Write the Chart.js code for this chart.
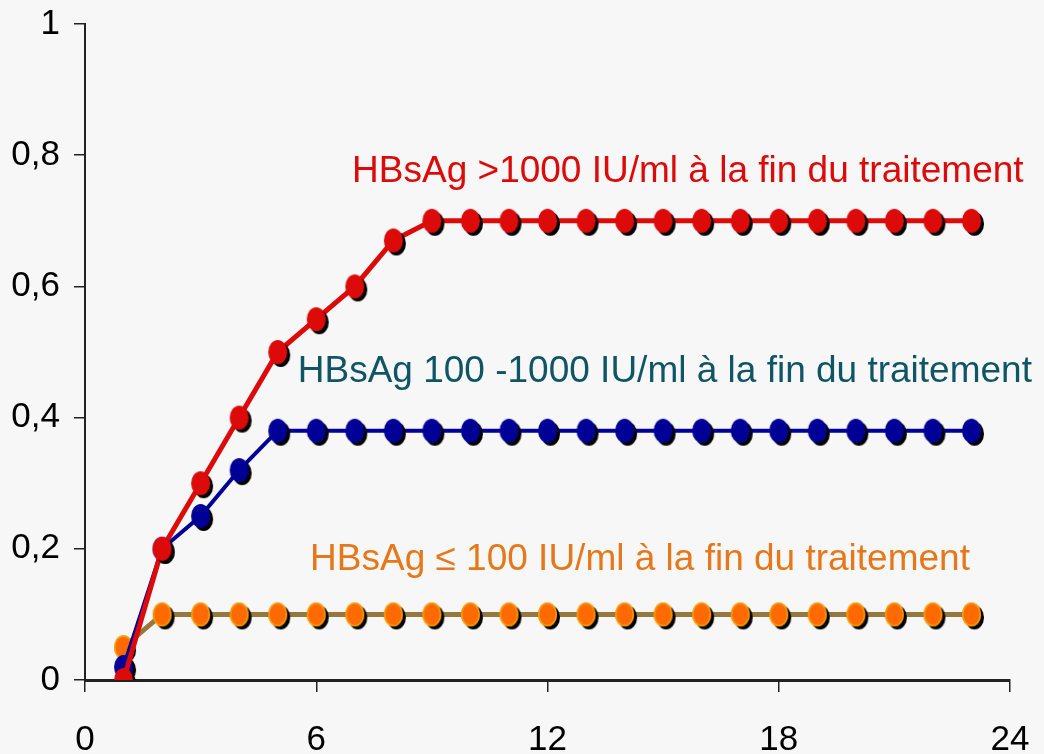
<!DOCTYPE html>
<html>
<head>
<meta charset="utf-8">
<script src="https://cdn.jsdelivr.net/npm/chart.js@4"></script>
<style>
  html, body { margin: 0; padding: 0; background: #f7f7f7; }
  #wrap { width: 1044px; height: 754px; }
</style>
</head>
<body>
<div id="wrap"><canvas id="hbs-chart"></canvas></div>
<script>
// months after end of treatment
var months = [1,2,3,4,5,6,7,8,9,10,11,12,13,14,15,16,17,18,19,20,21,22,23];

// cumulative probability, one list per HBsAg group
var highGroup = [0,0.2,0.3,0.4,0.5,0.55,0.6,0.67,0.7,0.7,0.7,0.7,0.7,0.7,0.7,0.7,0.7,0.7,0.7,0.7,0.7,0.7,0.7];
var midGroup  = [0.02,0.2,0.25,0.32,0.38,0.38,0.38,0.38,0.38,0.38,0.38,0.38,0.38,0.38,0.38,0.38,0.38,0.38,0.38,0.38,0.38,0.38,0.38];
var lowGroup  = [0.05,0.1,0.1,0.1,0.1,0.1,0.1,0.1,0.1,0.1,0.1,0.1,0.1,0.1,0.1,0.1,0.1,0.1,0.1,0.1,0.1,0.1,0.1];

var xTicks = [0,6,12,18,24];
var yTicks = [0,0.2,0.4,0.6,0.8,1];

// series labels written on the plot (anchored in data units)
var labelTexts  = ["HBsAg >1000 IU/ml à la fin du traitement",
                   "HBsAg 100 -1000 IU/ml à la fin du traitement",
                   "HBsAg ≤ 100 IU/ml à la fin du traitement"];
var labelColors = ["#dd0a0a", "#0f5566", "#e5781a"];
var labelX = [6.93, 5.52, 5.84];
var labelY = [0.775, 0.47, 0.183];

var FONT = "'Liberation Sans', Arial, sans-serif";

/*******************************
* Builds an ellipse marker with a black drop shadow
*******************************/
function makeMarker(fill, stroke){
  var rx = 9.5, ry = 12, off = 3;
  var c = document.createElement('canvas');
  c.width = 2*(rx+off)+2;
  c.height = 2*(ry+off)+2;
  var g = c.getContext('2d');
  var cx = c.width/2, cy = c.height/2;
  g.fillStyle = "#000";
  g.beginPath(); g.ellipse(cx+off, cy+off, rx, ry, 0, 0, Math.PI*2); g.fill();
  g.fillStyle = fill;
  g.beginPath(); g.ellipse(cx, cy, rx, ry, 0, 0, Math.PI*2); g.fill();
  if (stroke) {
    g.strokeStyle = stroke; g.lineWidth = 1.5;
    g.beginPath(); g.ellipse(cx, cy, rx-0.75, ry-0.75, 0, 0, Math.PI*2); g.stroke();
  }
  return c;
}

function toPoints(vals){
  return vals.map(function(v, i){ return {x: months[i], y: v}; });
}

var seriesLabels = {
  id: 'seriesLabels',
  afterDatasetsDraw: function(chart){
    var ctx = chart.ctx;
    var xs = chart.scales.x, ys = chart.scales.y;
    ctx.save();
    ctx.font = "37px " + FONT;
    ctx.textBaseline = "middle";
    ctx.textAlign = "left";
    for (var i = 0; i < labelTexts.length; i++) {
      ctx.fillStyle = labelColors[i];
      ctx.fillText(labelTexts[i], xs.getPixelForValue(labelX[i]), ys.getPixelForValue(labelY[i]));
    }
    ctx.restore();
  }
};

new Chart("hbs-chart", {
  type: "line",
  data: {
    datasets: [{
      data: toPoints(highGroup),
      borderColor: "#dd0a0a",
      borderWidth: 5,
      pointStyle: makeMarker("#dd0a0a"),
      fill: false,
      tension: 0
    },{
      data: toPoints(midGroup),
      borderColor: "#000096",
      borderWidth: 4,
      pointStyle: makeMarker("#000096"),
      fill: false,
      tension: 0
    },{
      data: toPoints(lowGroup),
      borderColor: "#94783e",
      borderWidth: 5,
      pointStyle: makeMarker("#ff6a00", "#f5a000"),
      fill: false,
      tension: 0
    }]
  },
  options: {
    responsive: true,
    maintainAspectRatio: false,
    animation: false,
    layout: { padding: { top: 24, right: 34, left: 0, bottom: 0 } },
    plugins: { legend: { display: false }, tooltip: { enabled: false } },
    scales: {
      x: {
        type: "linear",
        min: 0, max: 24,
        afterFit: function(s){ s.height = 74; s.paddingLeft = 0; s.paddingRight = 0; },
        afterBuildTicks: function(s){ s.ticks = xTicks.map(function(v){ return {value: v}; }); },
        grid: { drawOnChartArea: false, drawTicks: true, tickLength: 12, color: "#222", lineWidth: 1.5 },
        border: { color: "#222", width: 3 },
        ticks: { color: "#000", padding: 27, maxRotation: 0, font: { family: FONT, size: 35 } }
      },
      y: {
        min: 0, max: 1,
        afterFit: function(s){ s.width = 85; s.paddingTop = 0; s.paddingBottom = 0; },
        afterBuildTicks: function(s){ s.ticks = yTicks.map(function(v){ return {value: v}; }); },
        grid: { drawOnChartArea: false, drawTicks: true, tickLength: 11, color: "#222", lineWidth: 1.5 },
        border: { color: "#222", width: 2 },
        ticks: {
          color: "#000", padding: 14, font: { family: FONT, size: 35 },
          callback: function(v){ return String(v).replace(".", ","); }
        }
      }
    }
  },
  plugins: [seriesLabels]
});
</script>
</body>
</html>
